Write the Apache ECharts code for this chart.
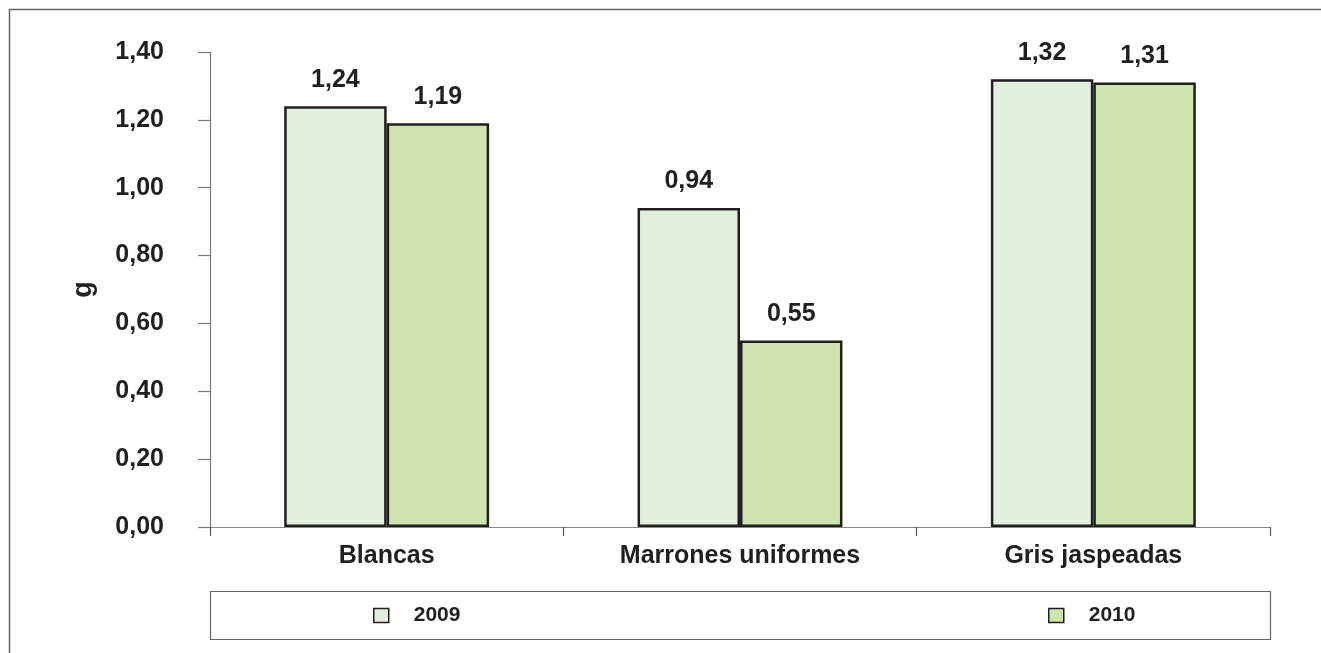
<!DOCTYPE html>
<html>
<head>
<meta charset="utf-8">
<script src="https://cdn.jsdelivr.net/npm/echarts@6/dist/echarts.min.js"></script>
<style>
  html, body { margin: 0; padding: 0; background: #fff; }
  #chart { width: 1321px; height: 653px; }
</style>
</head>
<body>
<div id="chart"></div>
<script>
// data
const categories = ['Blancas', 'Marrones uniformes', 'Gris jaspeadas']
const years = ['2009', '2010']
const values2009 = [1.24, 0.94, 1.32]
const values2010 = [1.19, 0.55, 1.31]

const TEXT = '#231f20'
const FONT = '"Liberation Sans", Arial, sans-serif'
const fmt = (v) => v.toFixed(2).replace('.', ',')

const chart = echarts.init(document.getElementById('chart'))

const barStyle = (color) => ({
    color: color,
    borderColor: TEXT,
    borderWidth: 2.5
})

const legendItem = (name, left) => ({
    data: [name], left: left, top: 605, padding: 0,
    icon: 'rect', itemWidth: 15, itemHeight: 14,
    textStyle: { fontFamily: FONT, fontWeight: 'bold', fontSize: 21, color: TEXT, padding: [0, 0, 0, 20] },
    itemStyle: { borderColor: TEXT, borderWidth: 1.5 }
})

const valueLabel = {
    show: true, position: 'top', distance: 14,
    fontFamily: FONT, fontWeight: 'bold', fontSize: 25, color: TEXT,
    formatter: (p) => fmt(p.value)
}

const option = {
    animation: false,
    textStyle: { fontFamily: FONT },
    grid: { left: 210, right: 51, top: 52, bottom: 126 },
    // one legend per item so they sit where the original has them
    legend: [legendItem(years[0], 373), legendItem(years[1], 1048)],
    graphic: [
        {   // outer frame
            type: 'rect', silent: true,
            shape: { x: 9.5, y: 9.5, width: 1340, height: 680 },
            style: { fill: 'none', stroke: '#666', lineWidth: 1.5 }
        },
        {   // legend box
            type: 'rect', silent: true,
            shape: { x: 210.5, y: 591.5, width: 1060, height: 48 },
            style: { fill: 'none', stroke: '#666', lineWidth: 1.2 }
        }
    ],
    xAxis: {
        type: 'category',
        data: categories,
        axisLine: { lineStyle: { color: '#888', width: 1.2 } },
        axisTick: { show: true, length: 9, lineStyle: { color: '#555', width: 1.2 } },
        axisLabel: { fontFamily: FONT, fontWeight: 'bold', fontSize: 25, color: TEXT, margin: 17 }
    },
    yAxis: {
        type: 'value',
        min: 0, max: 1.4, interval: 0.2,
        name: 'g',
        nameLocation: 'middle',
        nameGap: 113,
        nameTextStyle: { fontFamily: FONT, fontWeight: 'bold', fontSize: 27, color: TEXT },
        splitLine: { show: false },
        axisLine: { show: true, lineStyle: { color: '#777', width: 1.2 } },
        axisTick: { show: true, length: 12, lineStyle: { color: '#777', width: 1.2 } },
        axisLabel: { fontFamily: FONT, fontWeight: 'bold', fontSize: 25, color: TEXT, margin: 46, formatter: fmt }
    },
    series: [
        {
            name: years[0], type: 'bar', data: values2009,
            barGap: '0%', barCategoryGap: '42%',
            itemStyle: barStyle('#e3efdd'),
            label: valueLabel
        },
        {
            name: years[1], type: 'bar', data: values2010,
            barGap: '0%', barCategoryGap: '42%',
            itemStyle: barStyle('#cfe4ad'),
            label: valueLabel
        }
    ]
}

chart.setOption(option)
</script>
</body>
</html>
